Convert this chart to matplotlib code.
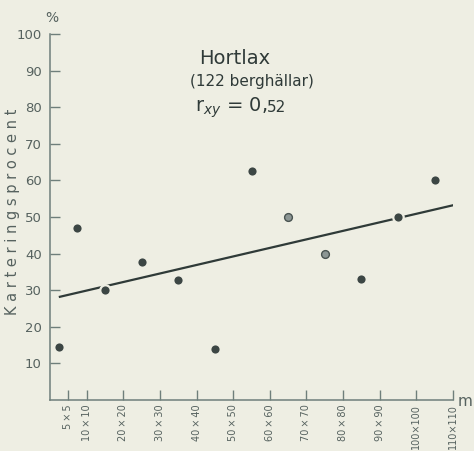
import matplotlib
matplotlib.use('Agg')
import matplotlib.pyplot as plt

# ytstorlek (m), punkter placerade mitt i varje intervall
ruta = [2.5, 7.5, 15, 25, 35, 45, 55, 65, 75, 85, 95, 105]
procent = [14.5, 47.1, 30.0, 37.7, 32.9, 13.9, 62.6, 50.1, 39.8, 33.1, 49.9, 60.1]
ljus = [False, False, False, False, False, False, False, True, True, False, False, False]

# regressionslinje (ändpunkter avlästa)
linje_x = [2.7, 110.4]
linje_y = [28.2, 53.3]

tick_x = [5, 10, 20, 30, 40, 50, 60, 70, 80, 90, 100, 110]
tick_lab = ['5\u2009×\u20095', '10\u2009×\u200910', '20\u2009×\u200920', '30\u2009×\u200930',
            '40\u2009×\u200940', '50\u2009×\u200950', '60\u2009×\u200960', '70\u2009×\u200970',
            '80\u2009×\u200980', '90\u2009×\u200990', '100×100', '110×110']
tick_y = [10, 20, 30, 40, 50, 60, 70, 80, 90, 100]

bg = '#eeeee3'
axcol = '#6f7f7b'
txtcol = '#56625f'
dark = '#2f3a38'

fig = plt.figure(figsize=(4.74, 4.51), dpi=100, facecolor=bg)
ax = fig.add_axes([50 / 474, 51 / 451, 403 / 474, 366 / 451])
ax.set_facecolor(bg)

ax.plot(linje_x, linje_y, color=dark, linewidth=1.6, zorder=2)
for x, y, l in zip(ruta, procent, ljus):
    fc = '#8c9694' if l else '#3c4644'
    ax.plot(x, y, 'o', markersize=7.5, markerfacecolor=fc, markeredgecolor=bg,
            markeredgewidth=1.6, zorder=3)
    if l:
        ax.plot(x, y, 'o', markersize=5.6, markerfacecolor=fc,
                markeredgecolor='#4a5452', markeredgewidth=1.0, zorder=4)

ax.set_xlim(0, 110)
ax.set_ylim(0, 100)
ax.set_xticks(tick_x)
ax.set_xticklabels(tick_lab, rotation=90, fontsize=7, color=txtcol)
ax.set_yticks(tick_y)
ax.set_yticklabels([str(v) for v in tick_y], fontsize=9.5, color=txtcol)
ax.tick_params(axis='x', direction='in', length=7, width=1, color=axcol, pad=3)
ax.tick_params(axis='y', direction='in', length=7, width=1, color=axcol, pad=6)
for s in ['top', 'right']:
    ax.spines[s].set_visible(False)
for s in ['left', 'bottom']:
    ax.spines[s].set_color(axcol)
    ax.spines[s].set_linewidth(1.1)

ax.text(50.5, 93.4, 'Hortlax', fontsize=14, color=dark, ha='center', va='center')
ax.text(55.2, 86.9, '(122 berghällar)', fontsize=11, color=dark, ha='center', va='center')
t = ax.text(39.5, 79.8, 'r$_{xy}$ = 0,', fontsize=14, color=dark, ha='left', va='center')
ax.annotate('52', xy=(1, 0.2), xycoords=t, fontsize=11, color=dark, ha='left', va='bottom')

fig.text(52 / 474, 1 - 18 / 451, '%', fontsize=10, color=txtcol, ha='center', va='center')
fig.text(465 / 474, 1 - 402 / 451, 'm', fontsize=11, color=txtcol, ha='center', va='center')
fig.text(13 / 474, 1 - 212 / 451, 'K a r t e r i n g s p r o c e n t', fontsize=10.5,
         color=txtcol, rotation=90, ha='center', va='center')

fig.savefig('out.png', dpi=100, facecolor=bg)
